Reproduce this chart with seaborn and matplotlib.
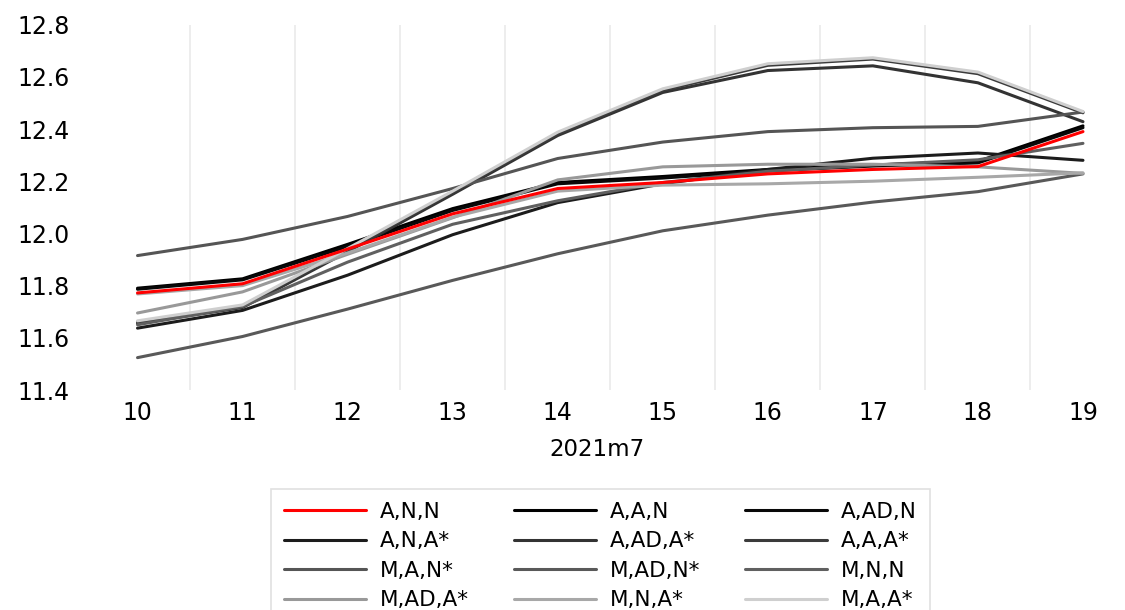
import numpy as np
import pandas as pd
import matplotlib.pyplot as plt
from matplotlib.lines import Line2D
import seaborn as sns

# Data (2021m7, days 10-19)
days = [10, 11, 12, 13, 14, 15, 16, 17, 18, 19]
day_labels = [str(d) for d in days]
y_ticks = [11.4, 11.6, 11.8, 12.0, 12.2, 12.4, 12.6, 12.8]

series_names = ['A,N,N', 'A,A,N', 'A,AD,N', 'A,N,A*', 'A,AD,A*', 'A,A,A*',
                'M,A,N*', 'M,AD,N*', 'M,N,N', 'M,AD,A*', 'M,N,A*', 'M,A,A*']
series_colors = ['#ff0000', '#000000', '#080808', '#1c1c1c', '#333333', '#3b3b3b',
                 '#555555', '#595959', '#606060', '#999999', '#a8a8a8', '#cfcfcf']

a_n_n = [11.772, 11.807, 11.940, 12.075, 12.172, 12.195, 12.228, 12.245, 12.256, 12.390]
a_a_n = [11.790, 11.826, 11.958, 12.095, 12.195, 12.218, 12.245, 12.262, 12.276, 12.412]
a_ad_n = [11.786, 11.822, 11.950, 12.088, 12.190, 12.212, 12.240, 12.258, 12.270, 12.405]
a_n_as = [11.637, 11.705, 11.840, 11.995, 12.118, 12.190, 12.245, 12.288, 12.308, 12.280]
a_ad_as = [11.655, 11.716, 11.930, 12.150, 12.375, 12.540, 12.624, 12.642, 12.577, 12.428]
a_a_as = [11.660, 11.720, 11.935, 12.157, 12.381, 12.548, 12.644, 12.668, 12.612, 12.462]
m_a_ns = [11.915, 11.977, 12.065, 12.172, 12.287, 12.350, 12.390, 12.405, 12.410, 12.465]
m_ad_ns = [11.524, 11.605, 11.710, 11.820, 11.922, 12.010, 12.070, 12.120, 12.160, 12.228]
m_n_n = [11.650, 11.720, 11.890, 12.035, 12.125, 12.195, 12.238, 12.262, 12.282, 12.345]
m_ad_as = [11.695, 11.776, 11.920, 12.060, 12.205, 12.255, 12.265, 12.265, 12.255, 12.230]
m_n_as = [11.768, 11.800, 11.925, 12.062, 12.162, 12.185, 12.190, 12.200, 12.215, 12.232]
m_a_as = [11.665, 11.726, 11.942, 12.162, 12.388, 12.554, 12.650, 12.673, 12.618, 12.467]

all_values = [a_n_n, a_a_n, a_ad_n, a_n_as, a_ad_as, a_a_as,
              m_a_ns, m_ad_ns, m_n_n, m_ad_as, m_n_as, m_a_as]

# Long format for seaborn
df = pd.DataFrame({
    'day': days * len(series_names),
    'value': np.concatenate(all_values),
    'series': np.repeat(series_names, len(days)),
})

sns.set_theme(style='white')
plt.rcParams['font.family'] = ['DejaVu Sans']
plt.rcParams['text.color'] = '#000000'

fig = plt.figure(figsize=(11.25, 6.1), dpi=100)
ax = fig.add_axes([85 / 1125, 1 - 390 / 610, (1135.5 - 85) / 1125, (390 - 24.6) / 610])

palette = dict(zip(series_names, series_colors))
sns.lineplot(data=df, x='day', y='value', hue='series', hue_order=series_names,
             palette=palette, linewidth=2.2, legend=False, ax=ax)
# red series on top
ax.lines[0].set_zorder(5)

ax.set_xlim(9.5, 19.5)
ax.set_ylim(11.4, 12.8)
ax.set_xticks(days)
ax.set_xticklabels(day_labels)
ax.set_yticks(y_ticks)
ax.set_yticklabels([f'{v:.1f}' for v in y_ticks])
ax.set_xticks([d + 0.5 for d in days[:-1]], minor=True)
ax.set_yticks(y_ticks[1:-1], minor=True)
ax.grid(which='major', visible=False)
ax.grid(which='minor', color='#e8e8e8', linewidth=1.1)
ax.tick_params(which='both', length=0)
ax.tick_params(axis='y', pad=11, labelsize=17, labelcolor='#000000')
ax.tick_params(axis='x', pad=8, labelsize=17, labelcolor='#000000')
ax.set_xlabel('')
ax.set_ylabel('')
for s in ax.spines.values():
    s.set_visible(False)

fig.text(597 / 1125, 1 - 450 / 610, '2021m7', ha='center', va='center',
         fontsize=16.5, color='#000000')

# Legend, filled row by row like the original
handles = [Line2D([], [], color=c, linewidth=2.2) for c in series_colors]
order = [0, 3, 6, 9, 1, 4, 7, 10, 2, 5, 8, 11]
leg = fig.legend([handles[i] for i in order], [series_names[i] for i in order],
                 ncol=3, loc='upper left', bbox_to_anchor=(271 / 1125, 1 - 489 / 610),
                 borderaxespad=0, fontsize=15.5, handlelength=3.8, handletextpad=0.65,
                 columnspacing=2.1, labelspacing=0.44, borderpad=0.6,
                 frameon=True, fancybox=False, edgecolor='#d9d9d9')
leg.get_frame().set_linewidth(1.2)
for t in leg.get_texts():
    t.set_color('#000000')

fig.savefig('out.png', dpi=100)
